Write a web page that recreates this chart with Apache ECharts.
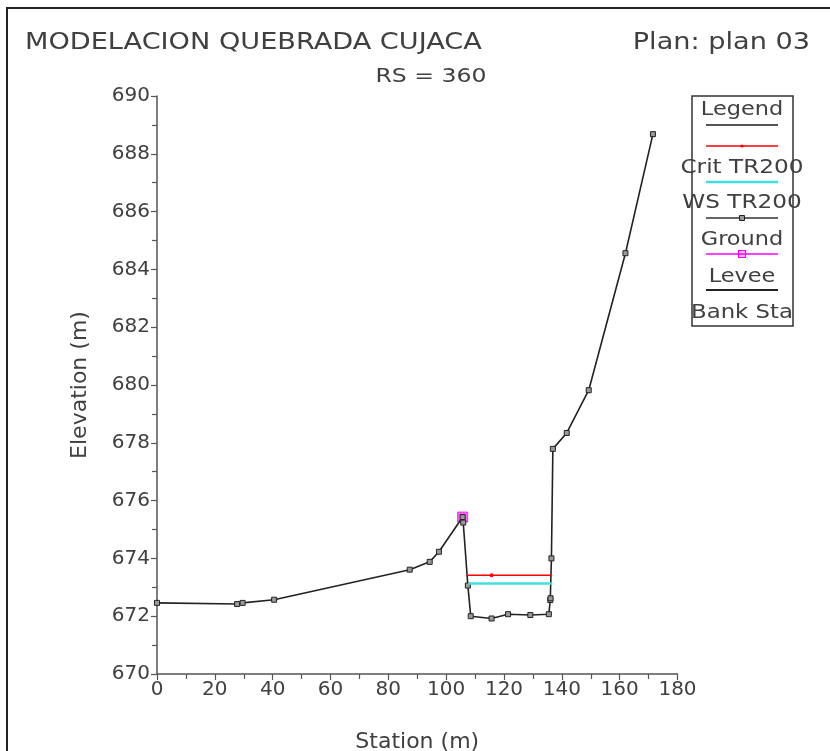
<!DOCTYPE html>
<html>
<head>
<meta charset="utf-8">
<script src="https://cdn.jsdelivr.net/npm/echarts@6/dist/echarts.min.js"></script>
<style>
html,body{margin:0;padding:0;background:#fff;}
#chart{width:830px;height:751px;}
</style>
</head>
<body>
<div id="chart"></div>
<script>
// ---- data ----
var groundStation = [0, 27.7, 29.6, 40.5, 87.4, 94.3, 97.5, 105.7, 105.9, 107.5, 108.5, 115.7, 121.4, 129.1, 135.5, 136.0, 136.1, 136.4, 136.9, 141.7, 149.3, 162.0, 171.5];
var groundElev    = [672.46, 672.42, 672.46, 672.57, 673.61, 673.88, 674.23, 675.43, 675.24, 673.06, 672.00, 671.92, 672.07, 672.04, 672.07, 672.56, 672.62, 674.00, 677.79, 678.34, 679.82, 684.56, 688.68];
var critStation = [107.0, 115.7, 136.5];
var critElev    = [673.42, 673.42, 673.42];
var wsStation = [107.6, 136.5];
var wsElev    = [673.13, 673.13];
var leveeStation = [105.7];
var leveeElev    = [675.43];
var xTicks = {min: 0, max: 180, interval: 20};
var yTicks = {min: 670, max: 690, interval: 2};
var titleText = 'MODELACION QUEBRADA CUJACA';
var planText = 'Plan: plan 03';
var rsText = 'RS = 360';
var legendTitle = 'Legend';
var legendNames = ['Crit TR200', 'WS TR200', 'Ground', 'Levee', 'Bank Sta'];

function pairs(xs, ys) { return xs.map(function (x, i) { return [x, ys[i]]; }); }

var FONT = 'DejaVu Sans';
var TXT = '#404040';
var chart = echarts.init(document.getElementById('chart'), null, {renderer: 'canvas'});

function gtext(txt, x, y, size, align, sx) {
  return {type: 'text', x: x, y: y, scaleX: sx || 1.18, z: 100,
    style: {text: txt, x: 0, y: 0, fontFamily: FONT, fontSize: size, fill: TXT,
      textAlign: align || 'center', textVerticalAlign: 'middle'}};
}
function gline(x1, y1, x2, y2, color, w) {
  return {type: 'line', z: 100, shape: {x1: x1, y1: y1, x2: x2, y2: y2}, style: {stroke: color, lineWidth: w}};
}

var LX1 = 706, LX2 = 778, LC = 742;
var graphics = [
  {type: 'rect', z: 90, shape: {x: 7, y: 8, width: 840, height: 760}, style: {fill: 'none', stroke: '#222', lineWidth: 2}},
  gtext(titleText, 25, 43, 23, 'left'),
  gtext(planText, 810, 43, 23, 'right'),
  gtext(rsText, 431, 77, 20, 'center'),
  {type: 'rect', z: 95, shape: {x: 692, y: 96, width: 101, height: 230}, style: {fill: '#fff', stroke: '#333', lineWidth: 1.5}},
  gtext(legendTitle, LC, 110, 19, 'center', 1.18),
  gline(LX1, 125, LX2, 125, '#555', 2),
  gline(LX1, 146, LX2, 146, '#ff0000', 1.5),
  {type: 'circle', z: 101, shape: {cx: LC, cy: 146, r: 1.6}, style: {fill: '#ff0000'}},
  gtext(legendNames[0], LC, 168, 19, 'center', 1.22),
  gline(LX1, 182, LX2, 182, '#40e0e0', 2.5),
  gtext(legendNames[1], LC, 203, 19, 'center', 1.22),
  gline(LX1, 218, LX2, 218, '#333', 1.5),
  {type: 'rect', z: 101, shape: {x: LC - 2.5, y: 215.5, width: 5, height: 5}, style: {fill: '#999', stroke: '#222', lineWidth: 1}},
  gtext(legendNames[2], LC, 240, 19, 'center', 1.18),
  gline(LX1, 254, LX2, 254, '#ff00ff', 1.5),
  {type: 'rect', z: 101, shape: {x: LC - 3.5, y: 250.5, width: 7, height: 7}, style: {fill: 'rgba(255,0,255,0.25)', stroke: '#ff00ff', lineWidth: 1.2}},
  gtext(legendNames[3], LC, 277, 19, 'center', 1.18),
  gline(LX1, 290, LX2, 290, '#222', 2),
  gtext(legendNames[4], LC, 313, 19, 'center', 1.2)
];

var axisCommon = {
  axisLine: {show: true, lineStyle: {color: '#555', width: 1.5}},
  axisTick: {show: true, inside: false, length: 6, lineStyle: {color: '#555', width: 1.2}},
  minorTick: {show: true, splitNumber: 2, length: 5, lineStyle: {color: '#555', width: 1.2}},
  splitLine: {show: false},
  axisLabel: {fontFamily: FONT, fontSize: 20, color: TXT, margin: 7},
  nameTextStyle: {fontFamily: FONT, fontSize: 22, color: TXT}
};

var option = {
  animation: false,
  backgroundColor: '#fff',
  grid: {left: 157, right: 152.5, top: 96, bottom: 77, containLabel: false, outerBoundsMode: 'none'},
  xAxis: Object.assign({}, axisCommon, {
    type: 'value', min: xTicks.min, max: xTicks.max, interval: xTicks.interval,
    name: 'Station (m)', nameLocation: 'middle', nameGap: 57,
    axisLabel: Object.assign({}, axisCommon.axisLabel, {margin: 6})
  }),
  yAxis: Object.assign({}, axisCommon, {
    type: 'value', min: yTicks.min, max: yTicks.max, interval: yTicks.interval,
    name: 'Elevation (m)', nameLocation: 'middle', nameGap: 66, nameRotate: 90
  }),
  graphic: graphics,
  series: [
    {
      name: legendNames[3], type: 'scatter', z: 3,
      data: pairs(leveeStation, leveeElev),
      symbol: 'rect', symbolSize: 10,
      itemStyle: {color: 'rgba(255,0,255,0.75)', borderColor: '#ff00ff', borderWidth: 1}
    },
    {
      name: legendNames[2], type: 'line', z: 4,
      data: pairs(groundStation, groundElev),
      symbol: 'rect', symbolSize: 5, showSymbol: true,
      lineStyle: {color: '#222', width: 1.6},
      itemStyle: {color: '#999', borderColor: '#222', borderWidth: 1}
    },
    {
      name: legendNames[1], type: 'line', z: 5,
      data: pairs(wsStation, wsElev),
      symbol: 'none',
      lineStyle: {color: '#40e0e0', width: 2.5}
    },
    {
      name: legendNames[0], type: 'line', z: 6,
      data: critStation.map(function (x, i) {
        return {value: [x, critElev[i]], symbol: i === 1 ? 'circle' : 'none', symbolSize: 4};
      }),
      showAllSymbol: true,
      lineStyle: {color: '#ff0000', width: 1.5},
      itemStyle: {color: '#ff0000'}
    }
  ]
};
chart.setOption(option);
</script>
</body>
</html>
